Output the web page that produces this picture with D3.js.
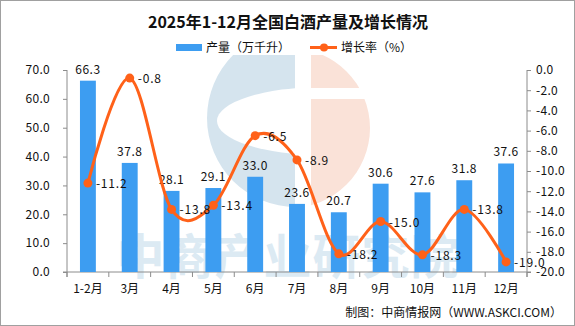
<!DOCTYPE html>
<html>
<head>
<meta charset="utf-8">
<script src="https://cdn.jsdelivr.net/npm/d3@7"></script>
<style>
  html, body { margin: 0; padding: 0; background: #fff; }
  svg { display: block; }
  text { font-family: "Noto Sans CJK SC", "Noto Sans", sans-serif; }
</style>
</head>
<body>
<svg id="chart" width="575" height="326"></svg>
<script>
// Monthly output and year-on-year growth, 2025
const months = ["1-2月", "3月", "4月", "5月", "6月", "7月", "8月", "9月", "10月", "11月", "12月"];
const output = [66.3, 37.8, 28.1, 29.1, 33.0, 23.6, 20.7, 30.6, 27.6, 31.8, 37.6];
const growth = [-11.2, -0.8, -13.8, -13.4, -6.5, -8.9, -18.2, -15.0, -18.3, -13.8, -19.0];
const leftTicks = [0, 10, 20, 30, 40, 50, 60, 70];
const rightTicks = [0, -2, -4, -6, -8, -10, -12, -14, -16, -18, -20];

const titleText = "2025年1-12月全国白酒产量及增长情况";
const barName = "产量（万千升）";
const lineName = "增长率（%）";
const sourceText = "制图：中商情报网（WWW.ASKCI.COM）";
const watermarkText = "中商产业研究院";

const W = 575, H = 326;
const plot = { left: 67, right: 527, top: 70, bottom: 272 };
const barColor = "#3d9df1";
const lineColor = "#ff6119";
const axisColor = "#8c8c8c";
const fmt = v => d3.format(".1f")(v).replace("\u2212", "-");

const svg = d3.select("#chart");
svg.append("rect").attr("x", 0).attr("y", 0).attr("width", W).attr("height", H).attr("fill", "#fff");

// Background logo watermark
const wm = svg.append("g").attr("class", "watermark");
const defs = svg.append("defs");
defs.append("clipPath").attr("id", "logoLeft")
  .append("rect").attr("x", 0).attr("y", 55).attr("width", 295).attr("height", 200);
defs.append("clipPath").attr("id", "logoRight")
  .append("rect").attr("x", 311).attr("y", 55).attr("width", 200).attr("height", 200);
defs.append("mask").attr("id", "cOpening")
  .call(m => {
    m.append("rect").attr("x", 0).attr("y", 0).attr("width", W).attr("height", H).attr("fill", "#fff");
    m.append("ellipse").attr("cx", 322).attr("cy", 121).attr("rx", 105).attr("ry", 34).attr("fill", "#000");
  });
defs.append("mask").attr("id", "orangeStripe")
  .call(m => {
    m.append("rect").attr("x", 0).attr("y", 0).attr("width", W).attr("height", H).attr("fill", "#fff");
    m.append("rect").attr("x", 300).attr("y", 88).attr("width", 100).attr("height", 11).attr("fill", "#000");
  });
wm.append("g").attr("clip-path", "url(#logoLeft)").attr("mask", "url(#cOpening)")
  .append("circle").attr("cx", 296).attr("cy", 118).attr("r", 89).attr("fill", "#d5e4ee");
wm.append("g").attr("clip-path", "url(#logoRight)").attr("mask", "url(#orangeStripe)")
  .append("circle").attr("cx", 290).attr("cy", 128).attr("r", 80).attr("fill", "#fae2d8");
wm.append("text")
  .attr("x", 288).attr("y", 274)
  .attr("text-anchor", "middle")
  .attr("font-size", 48).attr("font-weight", 700)
  .attr("letter-spacing", 1)
  .attr("fill", "#dceaf3")
  .text(watermarkText);

// Scales
const x = d3.scaleBand().domain(months).range([plot.left, plot.right]).paddingInner(0.62).paddingOuter(0.31);
const xc = d => x(d) + x.bandwidth() / 2;
const yL = d3.scaleLinear().domain([0, 70]).range([plot.bottom, plot.top]);
const yR = d3.scaleLinear().domain([-20, 0]).range([plot.bottom, plot.top]);

// Axes
const axL = svg.append("g").attr("transform", `translate(${plot.left},0)`)
  .call(d3.axisLeft(yL).tickValues(leftTicks).tickFormat(fmt).tickSize(4).tickPadding(13));
const axR = svg.append("g").attr("transform", `translate(${plot.right},0)`)
  .call(d3.axisRight(yR).tickValues(rightTicks).tickFormat(fmt).tickSize(4).tickPadding(5));
const boundaries = d3.range(months.length + 1).map(i => plot.left + i * (plot.right - plot.left) / months.length);
const axX = svg.append("g").attr("transform", `translate(0,${plot.bottom})`);
axX.append("line").attr("x1", plot.left - 4).attr("x2", plot.right + 4).attr("y1", 0).attr("y2", 0);
axX.selectAll("line.tick").data(boundaries).join("line").attr("class", "tick")
  .attr("x1", d => d).attr("x2", d => d).attr("y1", 0).attr("y2", 5);
axX.selectAll("text").data(months).join("text")
  .attr("x", d => xc(d)).attr("y", 21)
  .attr("text-anchor", "middle").attr("font-size", 12).attr("fill", "#111")
  .text(d => d);
axX.selectAll("line").attr("stroke", axisColor);
[axL, axR].forEach(g => {
  g.select(".domain").remove();
  g.selectAll(".tick line").attr("stroke", axisColor);
  g.selectAll(".tick text").attr("font-size", 12).attr("fill", "#111")
    .attr("letter-spacing", 0.3)
    .attr("font-family", "\"Noto Sans CJK SC\", sans-serif");
  g.append("line").attr("x1", 0).attr("x2", 0).attr("y1", plot.top).attr("y2", plot.bottom + 5).attr("stroke", axisColor);
});

// Bars
svg.append("g").selectAll("rect").data(months).join("rect")
  .attr("x", d => x(d)).attr("width", x.bandwidth())
  .attr("y", (d, i) => yL(output[i])).attr("height", (d, i) => yL(0) - yL(output[i]))
  .attr("fill", barColor);
svg.append("g").selectAll("text").data(months).join("text")
  .attr("x", d => xc(d)).attr("y", (d, i) => yL(output[i]) - 7)
  .attr("text-anchor", "middle").attr("font-size", 12).attr("fill", "#111")
  .attr("letter-spacing", 0.5)
  .text((d, i) => fmt(output[i]));

// Growth line
const line = d3.line().x(d => xc(d.m)).y(d => yR(d.v)).curve(d3.curveCardinal.tension(0));
const pts = months.map((m, i) => ({ m, v: growth[i] }));
svg.append("path").datum(pts).attr("d", line)
  .attr("fill", "none").attr("stroke", lineColor).attr("stroke-width", 3);
svg.append("g").selectAll("circle").data(pts).join("circle")
  .attr("cx", d => xc(d.m)).attr("cy", d => yR(d.v)).attr("r", 4.5).attr("fill", lineColor);
svg.append("g").selectAll("text").data(pts).join("text")
  .attr("x", d => xc(d.m) + 8).attr("y", d => yR(d.v) + 5)
  .attr("font-size", 12).attr("fill", "#111")
  .attr("letter-spacing", 0.8)
  .text(d => fmt(d.v));

// Title
svg.append("text").attr("x", 288).attr("y", 28).attr("text-anchor", "middle")
  .attr("font-size", 16).attr("font-weight", 700).attr("fill", "#111").text(titleText);

// Legend
const lg = svg.append("g");
lg.append("rect").attr("x", 176).attr("y", 44).attr("width", 26).attr("height", 7).attr("fill", barColor);
lg.append("text").attr("x", 206).attr("y", 52).attr("font-size", 12).attr("fill", "#111").text(barName);
lg.append("line").attr("x1", 310).attr("x2", 337).attr("y1", 47.5).attr("y2", 47.5)
  .attr("stroke", lineColor).attr("stroke-width", 3);
lg.append("circle").attr("cx", 324).attr("cy", 47.5).attr("r", 4).attr("fill", lineColor);
lg.append("text").attr("x", 341).attr("y", 52).attr("font-size", 12).attr("fill", "#111").text(lineName);

// Source note
svg.append("text").attr("x", 562).attr("y", 317).attr("text-anchor", "end")
  .attr("font-size", 12).attr("fill", "#111").text(sourceText);

// Frame
svg.append("rect").attr("x", 0.5).attr("y", 0.5).attr("width", W - 1).attr("height", H - 1)
  .attr("fill", "none").attr("stroke", "#a0a0a0").attr("stroke-width", 1);
</script>
</body>
</html>
